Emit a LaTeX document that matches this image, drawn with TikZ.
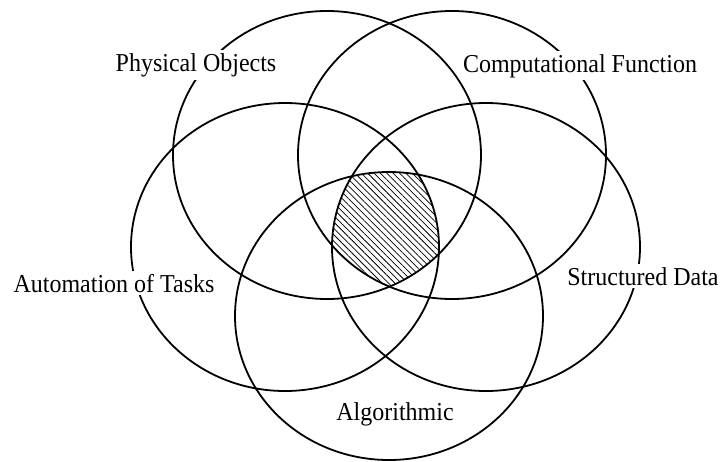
\documentclass[tikz,border=0pt]{standalone}
\usepackage{fontspec}
\setmainfont{Liberation Serif}[FakeStretch=0.93]
\usetikzlibrary{patterns.meta}
\begin{document}
\begin{tikzpicture}[x=1pt,y=-1pt,
  ring/.style={line width=1.8pt},
  lbl/.style={fill=white, inner sep=3pt, anchor=base, font=\fontsize{25.8}{30}\selectfont},
  hatch/.style={pattern={Lines[angle=-45,distance=4.5pt,line width=0.75pt]}}]
\useasboundingbox (0,0) rectangle (720,461);
\coordinate (cTL) at (327,155);
\coordinate (cTR) at (452,155);
\coordinate (cML) at (285,247);
\coordinate (cMR) at (486,247);
\coordinate (cB)  at (389,316);
% hatched common region
\begin{scope}
  \clip (cTL) ellipse [x radius=154pt, y radius=144pt];
  \clip (cTR) ellipse [x radius=154pt, y radius=144pt];
  \clip (cML) ellipse [x radius=154pt, y radius=144pt];
  \clip (cMR) ellipse [x radius=154pt, y radius=144pt];
  \clip (cB)  ellipse [x radius=154pt, y radius=144pt];
  \fill[hatch] (0,0) rectangle (720,461);
\end{scope}
% circles
\draw[ring] (cTL) ellipse [x radius=154pt, y radius=144pt];
\draw[ring] (cTR) ellipse [x radius=154pt, y radius=144pt];
\draw[ring] (cML) ellipse [x radius=154pt, y radius=144pt];
\draw[ring] (cMR) ellipse [x radius=154pt, y radius=144pt];
\draw[ring] (cB)  ellipse [x radius=154pt, y radius=144pt];
% labels
\node[lbl] (lPO) at (196,71) {Physical Objects};
\node[lbl] (lCF) at (580,72) {Computational Function};
\node[lbl] (lAT) at (114,292) {Automation of Tasks};
\node[lbl] (lSD) at (643,285) {Structured Data};
\node[lbl] (lAl) at (395,420) {Algorithmic};
\end{tikzpicture}
\end{document}
